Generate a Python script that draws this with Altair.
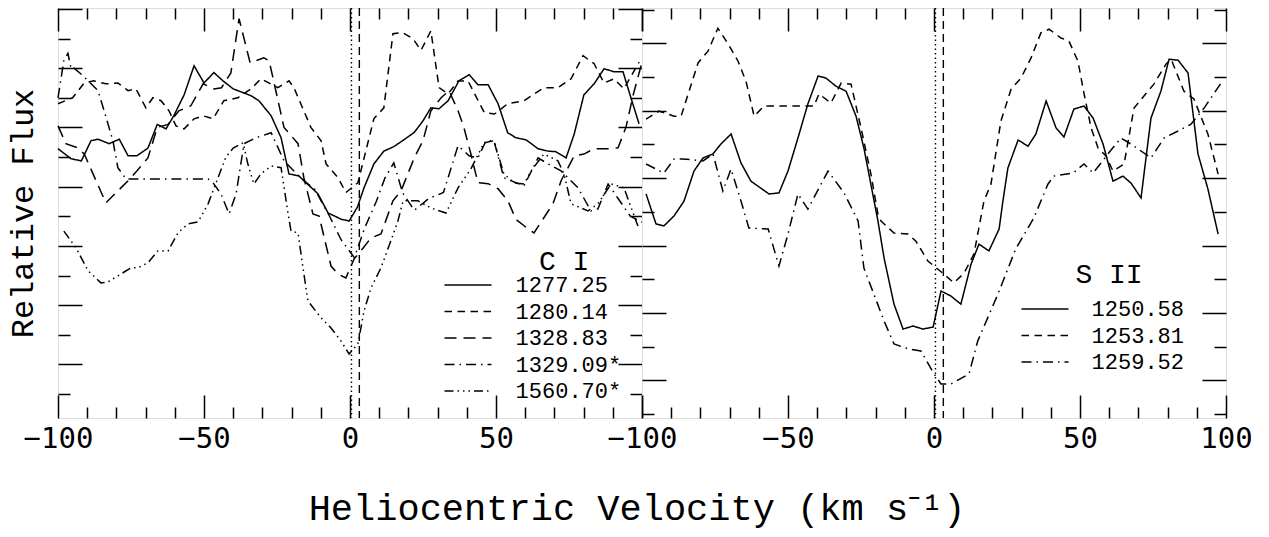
import altair as alt
import pandas as pd

# ---------------- C I panel (left) ----------------
ci_labels = ["1277.25", "1280.14", "1328.83", "1329.09*", "1560.70*"]

ci_1277_v = [-100, -95.5, -92, -88.7, -86.3, -82.5, -79, -76, -73, -69.2, -66, -63, -60.3, -56.8, -53.4, -50,
             -46.6, -43.5, -40, -33.9, -31.2, -27, -23.6, -20.9, -17.5, -11, -7.5, -3, -0.3, 2.5, 4.8, 8.2, 11.6,
             15, 18, 22, 25, 27.7, 30.5, 33.6, 37.3, 40.8, 43.8, 47.3, 50.7, 54, 56.8, 60.3, 64.4, 67.8, 70.5,
             74, 76.8, 80.1, 83.6, 87, 90.4, 93.5, 96.2, 99]
ci_1277_f = [8.28, 7.94, 7.87, 8.55, 8.6, 8.45, 8.6, 8.04, 8.04, 8.3, 9.1, 8.95, 9.4, 10.1, 11.08, 10.5,
             10.85, 10.57, 10.3, 10.07, 9.9, 9.39, 8.65, 7.43, 7.36, 6.76, 6.11, 5.9, 5.84, 6.3, 6.96, 7.77, 8.2,
             8.35, 8.55, 8.83, 9.22, 9.66, 9.63, 9.9, 10.57, 10.78, 10.44, 10.44, 9.8, 8.82, 8.65, 8.58, 8.28, 8.2,
             8.18, 7.97, 8.78, 10.1, 10.47, 10.98, 10.88, 10.88, 10.0, 9.12]

ci_1280_v = [-100, -95, -91, -87.7, -83.6, -79.5, -76, -73.3, -69.9, -67.5, -64.7, -62, -59.6, -56.8, -53.4,
             -50.3, -46.9, -43.2, -38.4, -33.9, -30.5, -24.7, -20.9, -19.2, -13.4, -9.9, -8.2, -4.1, -1.4, 2.7,
             8.2, 11.6, 14.7, 18, 21.5, 24.3, 27.7, 30.5, 33.6, 37, 40.4, 46, 49.5, 54, 59.6, 66.4, 71.2, 75.7,
             79.8, 83.6, 87, 90.4, 93.8, 99]
ci_1280_f = [9.8, 10.0, 10.5, 10.57, 10.47, 10.5, 10.24, 10.3, 9.66, 10.0, 9.9, 9.56, 9.05, 8.95, 9.29,
             9.39, 9.29, 9.9, 10.0, 10.3, 10.64, 10.34, 10.57, 10.34, 9.0, 8.55, 7.77, 7.3, 6.8, 7.13,
             9.3, 9.66, 12.16, 12.2, 12.0, 11.6, 12.26, 10.34, 10.13, 10.57, 10.57, 9.5, 9.45, 9.8, 9.9, 10.34,
             10.34, 10.64, 11.42, 11.15, 10.5, 10.64, 10.3, 11.2]

ci_1328_v = [-100, -97.3, -93.2, -91, -83.6, -76, -73, -69.2, -66, -62.3, -58.6, -54.5, -50.3, -46.6, -44,
             -40.8, -38, -34.2, -29.5, -27.7, -22.6, -17.8, -15.8, -12.7, -10.6, -6.5, -4.1, -1.4, 1.4, 4.5, 7.2,
             10.6, 14.7, 17.5, 22, 25, 27.7, 31.2, 33.9, 37, 39, 41.4, 43.8, 47.3, 50.7, 54.1, 56.8, 61, 63, 66.4,
             69.5, 72.3, 76.8, 80.1, 83.6, 88.4, 91.8, 94.5, 97, 100]
ci_1328_f = [9.05, 8.45, 8.31, 8.1, 6.45, 7.2, 7.53, 7.97, 9.0, 9.1, 9.56, 9.73, 10.47, 10.3, 10.34,
             10.84, 12.67, 11.18, 11.35, 11.25, 9.0, 8.45, 7.3, 6.08, 6.01, 4.32, 4.05, 3.92, 4.56, 4.93, 5.27,
             5.4, 6.52, 6.86, 7.97, 8.55, 9.56, 10.0, 10.24, 9.56, 9.0, 8.1, 7.13, 7.1, 6.93, 6.52, 5.9, 5.57, 5.44,
             5.95, 6.42, 7.2, 8.04, 8.1, 8.28, 8.28, 8.31, 9.0, 10.1, 11.2]

ci_1329_v = [-100, -98, -96.6, -95.5, -94.5, -91.4, -86.3, -84.2, -81.2, -79.5, -76.7, -48.6, -46.9, -44.2,
             -41.4, -39, -36.3, -32.2, -27, -22.6, -17, -12, -7, -3, 1.5, 5, 9, 12, 15, 18, 22, 27, 32, 37, 40.8,
             43.8, 46.6, 49.3, 52.7, 56.8, 59.6, 64.4, 67.8, 72.3, 78.1, 82.5, 84.9, 88.4, 91.8, 96, 100]
ci_1329_f = [10.0, 11.25, 11.5, 10.98, 11.0, 10.74, 10.24, 9.56, 8.55, 7.64, 7.26, 7.26, 7.13, 6.76,
             6.08, 6.76, 8.45, 8.65, 8.82, 7.87, 7.3, 6.9, 6.0, 5.2, 4.6, 5.6, 6.5, 7.3, 7.8, 6.8, 6.2, 6.6, 6.8,
             8.38, 8.04, 7.97, 8.55, 8.55, 7.3, 7.13, 7.03, 7.97, 7.77, 7.53, 6.96, 6.18, 6.25, 7.09, 6.6, 6.0, 5.8]

ci_1560_v = [-98, -93.8, -89.7, -85.3, -82.9, -79.5, -75, -72.6, -69.2, -65.8, -62.3, -58.9, -55.5, -52,
             -48.6, -45.2, -42.5, -40, -36.6, -35, -32.9, -30.5, -27, -23.6, -21.2, -20.2, -17.8, -16.1, -14.4,
             -9.9, -6.5, -3.1, -0.3, 2.7, 4.8, 7.2, 10.6, 14, 16.4, 18.2, 23.3, 27.7, 32.9, 37, 41.4, 45.9, 49.3,
             52.7, 56.2, 59.6, 62, 66.4, 71.2, 73.3, 75.7, 81.5, 84.9, 89.4, 93.8, 98.6]
ci_1560_f = [5.5, 4.93, 4.16, 3.75, 3.78, 3.99, 4.26, 4.26, 4.43, 4.83, 4.83, 5.44, 5.74, 5.81,
             6.42, 7.3, 8.0, 8.3, 8.48, 7.77, 7.09, 7.43, 7.7, 7.64, 6.08, 5.5, 5.44, 4.26, 3.14,
             2.57, 2.23, 1.79, 1.35, 1.69, 2.8, 3.58, 4.26, 5.17, 5.84, 6.52, 6.52, 6.28, 6.11, 6.96, 7.6, 8.48, 8.55,
             7.43, 7.13, 7.09, 7.53, 8.1, 7.87, 7.43, 6.42, 6.18, 6.42, 7.09, 6.96, 5.67]

# ---------------- S II panel (right) ----------------
si_labels = ["1250.58", "1253.81", "1259.52"]

si_1250_v = [-98.6, -95.9, -95.2, -92.5, -89, -85.6, -82.2, -79.1, -75.7, -73, -69.5, -66.1, -62.7, -56.5,
             -53.1, -50, -46.6, -43.2, -39.7, -37, -33.6, -30.1, -26.7, -24, -19.2, -17.1, -13.7, -10.6, -7.2,
             -3.8, -0.3, 2.4, 5.8, 9.2, 12.7, 15.4, 18.8, 22.3, 23.6, 25.3, 28.8, 32.2, 34.9, 38.4, 41.8, 44.5,
             47.9, 51.4, 54.5, 57.9, 61.3, 64.7, 67.5, 70.9, 74.3, 77.7, 80.5, 83.6, 87, 90.4, 93.8, 97.3]
si_1250_f = [6.53, 5.82, 5.64, 5.58, 5.88, 6.32, 7.21, 7.6, 7.72, 8.01, 8.31, 7.45, 6.91, 6.53,
             6.56, 7.21, 8.19, 9.2, 10.03, 9.97, 9.73, 9.58, 8.84, 7.89, 5.73, 4.63, 3.26, 2.52, 2.61,
             2.52, 2.58, 3.65, 3.5, 3.26, 4.45, 5.04, 4.84, 5.49, 6.32, 7.3, 8.13, 7.95, 8.31, 9.29, 8.49, 8.22,
             9.05, 9.14, 8.78, 8.01, 6.91, 7.06, 6.85, 6.41, 8.78, 9.58, 10.53, 10.5, 10.12, 7.72, 6.68, 5.34]

si_1253_v = [-98.6, -94.2, -89, -86.6, -80.8, -77.4, -74, -70.5, -67.1, -64.4, -61.6, -58.2, -41.1, -39.4,
             -35.3, -31.8, -28.4, -25, -21.6, -19.2, -18.2, -13.7, -8.9, -6.2, -2.1, 3.4, 6.8, 10.3, 13.7, 17.1,
             19.5, 22.9, 26.4, 29.8, 33.2, 36.6, 39.4, 43.5, 46.2, 49.3, 51.4, 53.8, 56.2, 58.9, 61.3, 65.1,
             68.5, 71.9, 75.3, 79.5, 81.2, 85.6, 89, 93.8, 97.3]
si_1253_f = [8.75, 8.99, 8.84, 8.84, 10.42, 10.77, 11.45, 10.98, 10.47, 9.88, 8.84, 9.14, 9.14, 9.5,
             9.23, 9.82, 9.79, 8.49, 7.12, 5.93, 5.73, 5.37, 5.34, 5.13, 4.54, 4.15, 3.89, 4.18, 4.75, 6.32,
             6.82, 8.69, 9.64, 9.97, 10.56, 11.31, 11.42, 11.16, 11.07, 10.47, 9.5, 8.49, 7.89, 7.66, 7.21, 7.42,
             9.08, 9.44, 9.79, 10.39, 10.53, 9.58, 9.35, 8.31, 7.12]

si_1259_v = [-98.6, -92.5, -89, -86, -79.1, -75.7, -72.3, -69.5, -66.1, -63.4, -56.8, -53.1, -50, -46.6,
             -43.2, -36.3, -30.8, -26, -24, -17.1, -13.7, -8.9, -4.5, 0, 2.4, 5.8, 12, 15, 21.9, 28, 34.2, 39, 41,
             47.6, 51.4, 54.5, 59.6, 64, 67.5, 74.3, 78.8, 83.6, 88, 92.5, 98.3]
si_1259_f = [7.42, 7.15, 7.57, 7.57, 7.51, 7.72, 6.62, 7.27, 6.32, 5.52, 5.49, 4.39, 5.34, 6.53,
             6.08, 7.21, 6.56, 5.73, 4.33, 2.76, 2.08, 1.93, 1.87, 1.19, 0.89, 0.89, 1.19, 2.17, 3.56, 4.9, 5.82,
             6.82, 7.06, 7.15, 7.42, 7.15, 7.72, 8.19, 8.01, 7.6, 8.19, 8.4, 8.6, 9.08, 9.82]

# ---------------- axes / guides ----------------
x_major = [-100, -50, 0, 50, 100]
x_minor = [-90, -80, -70, -60, -40, -30, -20, -10, 10, 20, 30, 40, 60, 70, 80, 90]
ci_y_major = [1, 3, 5, 7, 9, 11, 13]
ci_y_minor = [0, 2, 4, 6, 8, 10, 12]
si_y_major = [1, 3, 5, 7, 9, 11]
si_y_minor = [0, 2, 4, 6, 8, 10, 12]
ci_y_domain = [-0.81, 13.03]
si_y_domain = [-0.12, 12.05]
ref_dotted = [0.5]
ref_dashed = [3.2]

solid = [1, 0]
short_dash = [7.5, 5.5]
long_dash = [12, 7]
dash_dot = [10, 5, 1.5, 5]
dash_3dot = [9, 4, 1.5, 4, 1.5, 4, 1.5, 4]

MAJ_X, MIN_X, MAJ_Y, MIN_Y = 23, 11, 24, 12
LABEL_FONT = "DejaVu Sans Mono"
TEXT_FONT = "Liberation Mono"


def frame(pairs):
    rows = []
    for name, vs, fs in pairs:
        for v, f in zip(vs, fs):
            rows.append({"v": v, "f": f, "line": name})
    return pd.DataFrame(rows)


def tick_axis(orient, values, size, **kw):
    return alt.Axis(orient=orient, values=values, tickSize=size, offset=-size, domain=False, grid=False,
                    ticks=True, tickColor="black", tickWidth=1.5, **kw)


def panel(df, order, dashes, ydom, ymaj, ymin, legend, label_expr, ytitle):
    xs = alt.Scale(domain=[-100, 100], nice=False, zero=False)
    ys = alt.Scale(domain=ydom, nice=False, zero=False)
    base = alt.Chart(df)

    x_bottom = tick_axis("bottom", x_major, MAJ_X, labels=True, labelFont=LABEL_FONT, labelFontSize=29,
                         labelColor="black", labelPadding=6, labelFlush=False, labelOverlap=False,
                         labelExpr=label_expr, title=None)
    if ytitle:
        y_left = tick_axis("left", ymaj, MAJ_Y, labels=False, title=ytitle, titleFont=TEXT_FONT,
                           titleFontSize=32, titleFontWeight="normal", titleColor="black",
                           titlePadding=43, minExtent=0, maxExtent=0)
    else:
        y_left = tick_axis("left", ymaj, MAJ_Y, labels=False, title=None)

    lines = base.mark_line(color="black", strokeWidth=1.5).encode(
        x=alt.X("v:Q", scale=xs, axis=x_bottom),
        y=alt.Y("f:Q", scale=ys, axis=y_left),
        strokeDash=alt.StrokeDash("line:N", scale=alt.Scale(domain=order, range=dashes), legend=legend),
    )
    l2 = base.mark_point(opacity=0, size=1).encode(
        x=alt.X("v:Q", scale=xs, axis=tick_axis("bottom", x_minor, MIN_X, labels=False, title=None)),
        y=alt.Y("f:Q", scale=ys, axis=tick_axis("left", ymin, MIN_Y, labels=False, title=None)),
    )
    l3 = base.mark_point(opacity=0, size=1).encode(
        x=alt.X("v:Q", scale=xs, axis=tick_axis("top", x_major, MAJ_X, labels=False, title=None)),
        y=alt.Y("f:Q", scale=ys, axis=tick_axis("right", ymaj, MAJ_Y, labels=False, title=None)),
    )
    l4 = base.mark_point(opacity=0, size=1).encode(
        x=alt.X("v:Q", scale=xs, axis=tick_axis("top", x_minor, MIN_X, labels=False, title=None)),
        y=alt.Y("f:Q", scale=ys, axis=tick_axis("right", ymin, MIN_Y, labels=False, title=None)),
    )
    r1 = alt.Chart(pd.DataFrame({"v": ref_dotted})).mark_rule(color="black", strokeWidth=1.4,
                                                               strokeDash=[1.5, 3]).encode(
        x=alt.X("v:Q", scale=xs, axis=None))
    r2 = alt.Chart(pd.DataFrame({"v": ref_dashed})).mark_rule(color="black", strokeWidth=1.4,
                                                              strokeDash=[8, 5]).encode(
        x=alt.X("v:Q", scale=xs, axis=None))
    return alt.layer(lines, l2, l3, l4, r1, r2).resolve_axis(x="independent", y="independent").properties(
        width=584, height=410)


def legend(title, lx, ly, tpad, loff, talign):
    return alt.Legend(title=title, orient="none", legendX=lx, legendY=ly, symbolType="M-4,0H4",
                      symbolSize=138, symbolStrokeWidth=1.5, symbolStrokeColor="black",
                      labelFont=TEXT_FONT, labelFontSize=22, labelColor="black", labelOffset=loff,
                      titleFont=TEXT_FONT, titleFontSize=28, titleFontWeight="normal", titleColor="black",
                      titleAnchor="middle", titleAlign=talign, titlePadding=tpad, rowPadding=4.5)


ci_df = frame([
    (ci_labels[0], ci_1277_v, ci_1277_f),
    (ci_labels[1], ci_1280_v, ci_1280_f),
    (ci_labels[2], ci_1328_v, ci_1328_f),
    (ci_labels[3], ci_1329_v, ci_1329_f),
    (ci_labels[4], ci_1560_v, ci_1560_f),
])
si_df = frame([
    (si_labels[0], si_1250_v, si_1250_f),
    (si_labels[1], si_1253_v, si_1253_f),
    (si_labels[2], si_1259_v, si_1259_f),
])

left = panel(ci_df, ci_labels, [solid, short_dash, long_dash, dash_dot, dash_3dot], ci_y_domain,
             ci_y_major, ci_y_minor, legend("C I", 399, 240, -2, 36.6, "left"),
             "datum.value == 100 ? '' : datum.label", "Relative Flux")
right = panel(si_df, si_labels, [solid, short_dash, dash_dot], si_y_domain, si_y_major, si_y_minor,
              legend("S II", 392, 253, 9, 35.6, "center"), "datum.label", None)

chart = alt.hconcat(left, right, spacing=0, bounds="flush").resolve_scale(strokeDash="independent").properties(
    title=alt.TitleParams("Heliocentric Velocity (km s\u207b\u00b9)", orient="bottom", anchor="middle",
                          font=TEXT_FONT, fontSize=37, fontWeight="normal", color="black", offset=37, dx=8),
    padding={"left": 5, "top": 6, "right": 5, "bottom": 5},
).configure_view(stroke="black", strokeWidth=2).configure(background="white")

chart.save("out.html", embed_options={"renderer": "svg", "actions": False})
